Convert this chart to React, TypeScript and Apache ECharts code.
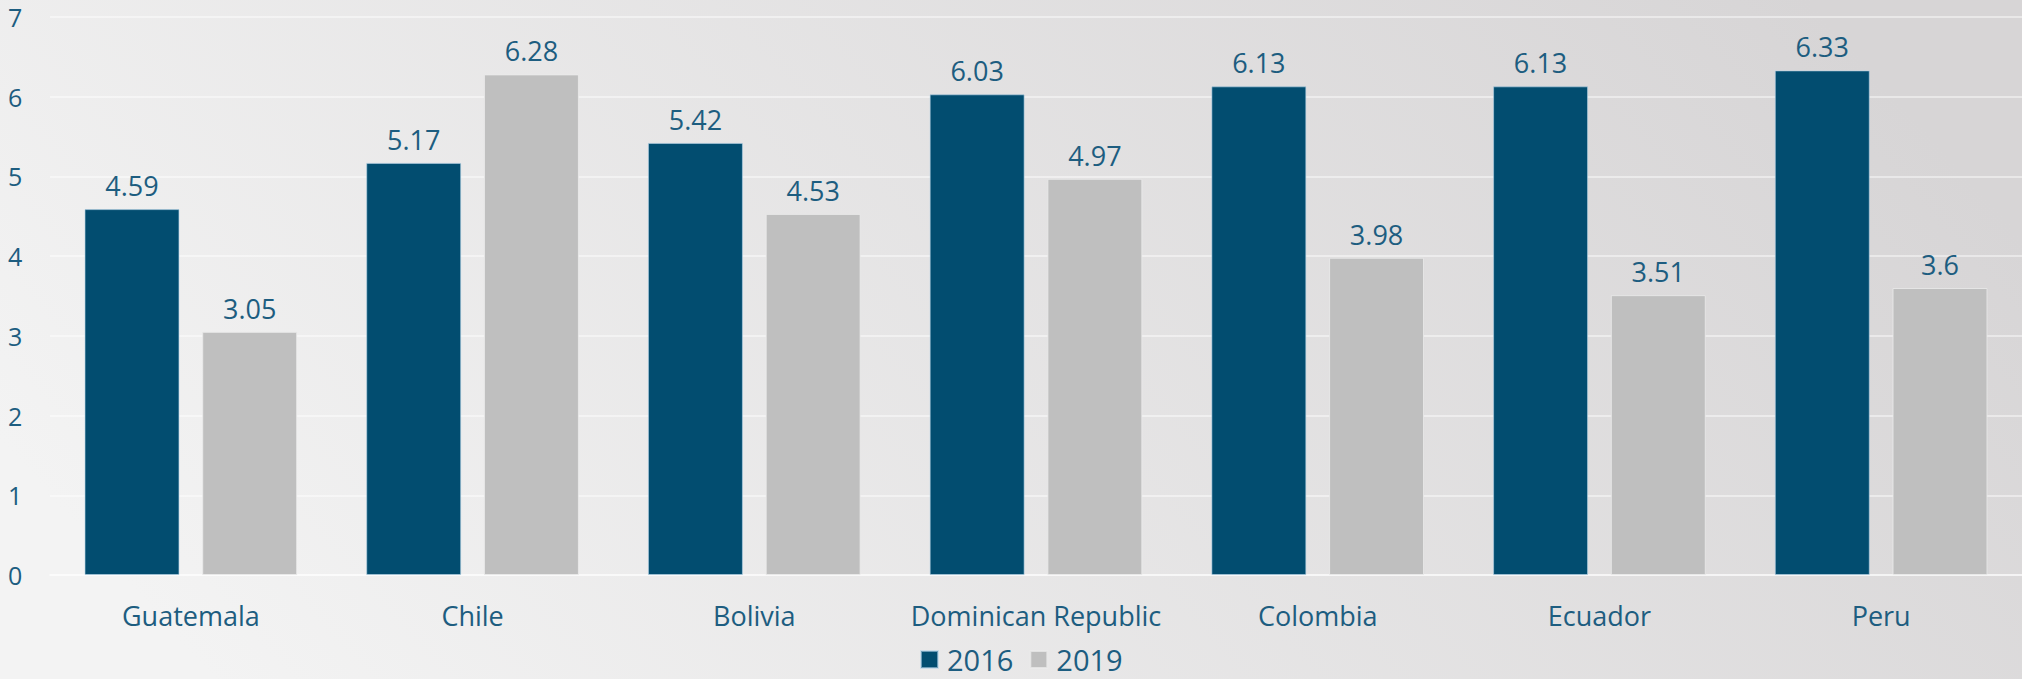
import React, { useEffect, useRef } from "react";
import * as echarts from "echarts";

const categories = ["Guatemala", "Chile", "Bolivia", "Dominican Republic", "Colombia", "Ecuador", "Peru"];
const values2016 = [4.59, 5.17, 5.42, 6.03, 6.13, 6.13, 6.33];
const values2019 = [3.05, 6.28, 4.53, 4.97, 3.98, 3.51, 3.6];
const yTicks = [0, 1, 2, 3, 4, 5, 6, 7];

const TEXT = "#1d5d80";
const FONT = "Open Sans";

export default function App() {
  const ref = useRef<HTMLDivElement>(null);
  useEffect(() => {
    document.body.style.margin = "0";
    const chart = echarts.init(ref.current!, null, { renderer: "svg" });
    chart.setOption({
      animation: false,
      backgroundColor: new echarts.graphic.LinearGradient(0, 0.65, 1, 0.35, [
        { offset: 0, color: "#f3f3f3" },
        { offset: 1, color: "#d7d5d6" },
      ]),
      textStyle: { fontFamily: FONT },
      grid: { left: 50, right: 0, top: 17, bottom: 104, containLabel: false },
      legend: {
        bottom: 0,
        left: 915,
        itemWidth: 17,
        itemHeight: 17,
        itemGap: 16,
        icon: "rect",
        textStyle: { color: TEXT, fontSize: 29, fontFamily: FONT, padding: [0, 0, 0, 4] },
        data: ["2016", "2019"],
      },
      xAxis: {
        type: "category",
        data: categories,
        axisTick: { show: false },
        axisLine: { show: true, lineStyle: { color: "rgba(255,255,255,0.45)", width: 2 } },
        axisLabel: { color: TEXT, fontSize: 27, margin: 27, interval: 0, fontFamily: FONT },
      },
      yAxis: {
        type: "value",
        min: yTicks[0],
        max: yTicks[yTicks.length - 1],
        interval: 1,
        axisLine: { show: false },
        axisTick: { show: false },
        splitLine: { lineStyle: { color: "rgba(255,255,255,0.45)", width: 2 } },
        axisLabel: { color: TEXT, fontSize: 25, lineHeight: 24, align: "left", margin: 42, fontFamily: FONT },
      },
      series: [
        {
          name: "2016",
          type: "bar",
          data: values2016,
          barWidth: "33.7%",
          barGap: "24%",
          itemStyle: { color: "#024d70", borderColor: "rgba(180,210,230,0.6)", borderWidth: 1 },
          label: { show: true, position: "top", distance: 10, color: TEXT, fontSize: 27, fontFamily: FONT },
        },
        {
          name: "2019",
          type: "bar",
          data: values2019,
          barWidth: "33.7%",
          itemStyle: { color: "#bfbfbf", borderColor: "rgba(235,235,235,0.8)", borderWidth: 1 },
          label: { show: true, position: "top", distance: 10, color: TEXT, fontSize: 27, fontFamily: FONT },
        },
      ],
    });
    return () => chart.dispose();
  }, []);
  return <div ref={ref} style={{ width: 2022, height: 679 }} />;
}
